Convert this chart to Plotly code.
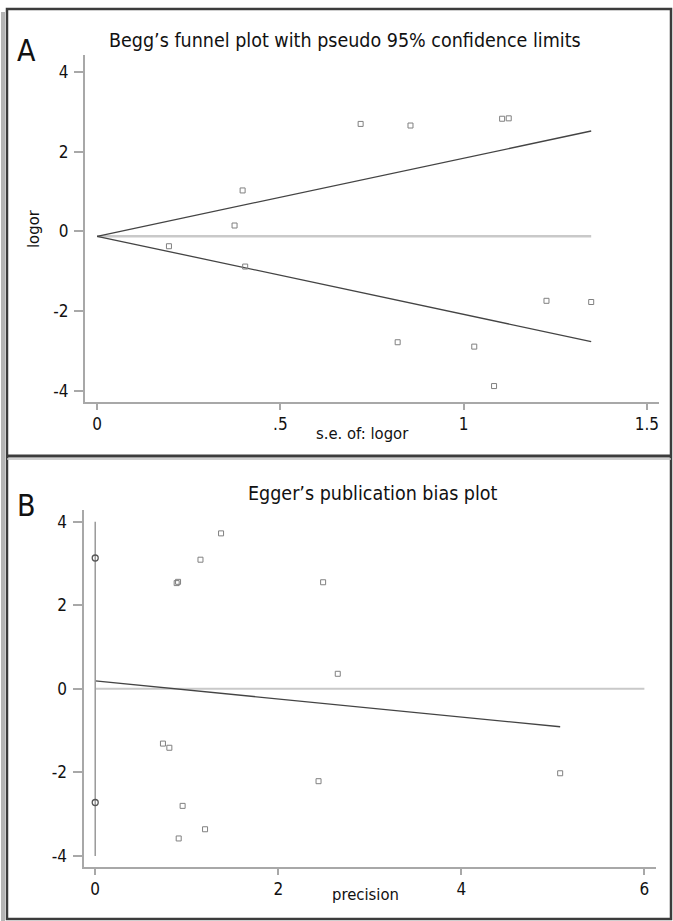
import plotly.graph_objects as go

W, H = 673, 921

# ---------------- Panel A data: Begg's funnel plot ----------------
se_logor = [0.196, 0.375, 0.397, 0.404, 0.719, 0.820, 0.855, 1.029, 1.083, 1.105, 1.123, 1.226, 1.348]
logor = [-0.37, 0.15, 1.03, -0.88, 2.70, -2.78, 2.66, -2.89, -3.88, 2.83, 2.84, -1.74, -1.77]
pooled_logor = -0.12
z95 = 1.96
a_xtick_vals = [0, 0.5, 1, 1.5]
a_xtick_text = ["0", ".5", "1", "1.5"]
a_ytick_vals = [-4, -2, 0, 2, 4]
a_ytick_text = ["-4", "-2", "0", "2", "4"]

# ---------------- Panel B data: Egger's plot ----------------
precision = [5.08, 2.65, 2.49, 2.44, 1.375, 1.20, 1.15, 0.955, 0.912, 0.905, 0.89, 0.81, 0.74]
std_effect = [-2.02, 0.36, 2.55, -2.21, 3.72, -3.36, 3.09, -2.80, -3.58, 2.56, 2.53, -1.41, -1.31]
egger_intercept = 0.19
egger_slope = -0.216
intercept_ci = [-2.72, 3.13]
ci_line_span = [-4, 4]
b_xmax = 6
b_xtick_vals = [0, 2, 4, 6]
b_xtick_text = ["0", "2", "4", "6"]
b_ytick_vals = [-4, -2, 0, 2, 4]
b_ytick_text = ["-4", "-2", "0", "2", "4"]

FONT = "DejaVu Sans Condensed, Liberation Sans Narrow, sans-serif"
AX = "#a8a8a8"
REF = "#c9c9c9"
FIT = "#444444"
MK = "#808080"

def px(x):
    return x / W

def py(y):
    return 1 - y / H

fig = go.Figure()

# Panel A lines
se_max = max(se_logor)
fig.add_trace(go.Scatter(x=[0, se_max], y=[pooled_logor, pooled_logor], mode="lines",
                         line=dict(color=REF, width=2.5), xaxis="x", yaxis="y", hoverinfo="skip"))
fig.add_trace(go.Scatter(x=[0, se_max], y=[pooled_logor, pooled_logor + z95 * se_max], mode="lines",
                         line=dict(color=FIT, width=1.3), xaxis="x", yaxis="y", hoverinfo="skip"))
fig.add_trace(go.Scatter(x=[0, se_max], y=[pooled_logor, pooled_logor - z95 * se_max], mode="lines",
                         line=dict(color=FIT, width=1.3), xaxis="x", yaxis="y", hoverinfo="skip"))
fig.add_trace(go.Scatter(x=se_logor, y=logor, mode="markers",
                         marker=dict(symbol="square-open", size=5, color=MK, line=dict(width=1)),
                         xaxis="x", yaxis="y"))

# Panel B lines
p_max = max(precision)
fig.add_trace(go.Scatter(x=[0, b_xmax], y=[0, 0], mode="lines",
                         line=dict(color=REF, width=2), xaxis="x2", yaxis="y2", hoverinfo="skip"))
fig.add_trace(go.Scatter(x=[0, p_max], y=[egger_intercept, egger_intercept + egger_slope * p_max], mode="lines",
                         line=dict(color=FIT, width=1.3), xaxis="x2", yaxis="y2", hoverinfo="skip"))
fig.add_trace(go.Scatter(x=[0, 0], y=ci_line_span, mode="lines",
                         line=dict(color="#999999", width=1.5), xaxis="x2", yaxis="y2", hoverinfo="skip"))
fig.add_trace(go.Scatter(x=[0, 0], y=intercept_ci, mode="markers",
                         marker=dict(symbol="circle-open", size=6, color="#555555", line=dict(width=1.3)),
                         xaxis="x2", yaxis="y2"))
fig.add_trace(go.Scatter(x=precision, y=std_effect, mode="markers",
                         marker=dict(symbol="square-open", size=5, color=MK, line=dict(width=1)),
                         xaxis="x2", yaxis="y2"))

axis_common = dict(showline=True, linecolor=AX, linewidth=2, ticks="outside", tickcolor=AX,
                   tickwidth=1.5, showgrid=False, zeroline=False, tickfont=dict(family=FONT, size=17, color="#111"),
                   fixedrange=True)

fig.update_layout(
    width=W, height=H, margin=dict(l=0, r=0, t=0, b=0),
    paper_bgcolor="white", plot_bgcolor="white", showlegend=False,
    xaxis=dict(domain=[px(85), px(659)], range=[-0.033, 1.533], anchor="y",
               tickvals=a_xtick_vals, ticktext=a_xtick_text, ticklen=6, ticklabelstandoff=0, **axis_common),
    yaxis=dict(domain=[py(402), py(55)], range=[-4.28, 4.43], anchor="x",
               tickvals=a_ytick_vals, ticktext=a_ytick_text, ticklen=9, ticklabelstandoff=2, **axis_common),
    xaxis2=dict(domain=[px(83.5), px(656)], range=[-0.128, 6.127], anchor="y2",
                tickvals=b_xtick_vals, ticktext=b_xtick_text, ticklen=6, ticklabelstandoff=0, **axis_common),
    yaxis2=dict(domain=[py(867), py(510)], range=[-4.263, 4.279], anchor="x2",
                tickvals=b_ytick_vals, ticktext=b_ytick_text, ticklen=9, ticklabelstandoff=2, **axis_common),
)

def ann(text, x, y, size, rot=0, xanchor="center"):
    fig.add_annotation(text=text, x=px(x), y=py(y), xref="paper", yref="paper", showarrow=False,
                       font=dict(family=FONT, size=size, color="#111"), textangle=rot,
                       xanchor=xanchor, yanchor="middle")

ann("Begg\u2019s funnel plot with pseudo 95% confidence limits", 345, 40, 19.5)
ann("A", 26, 50, 30)
ann("logor", 33, 229, 16.5, rot=-90)
ann("s.e. of: logor", 362, 433, 16.5)
ann("Egger\u2019s publication bias plot", 373, 493, 19.5)
ann("B", 26, 505, 30)
ann("precision", 366, 894, 16.5)

# frame
shapes = []
shapes.append(dict(type="line", xref="paper", yref="paper", x0=px(3), x1=px(3), y0=py(12), y1=py(921),
                   line=dict(color="#b5b5b5", width=4)))
shapes.append(dict(type="rect", xref="paper", yref="paper", x0=px(7), x1=px(671), y0=py(9), y1=py(919),
                   line=dict(color="#3c3c3c", width=2.5)))
shapes.append(dict(type="line", xref="paper", yref="paper", x0=px(7), x1=px(671), y0=py(456), y1=py(456),
                   line=dict(color="#3c3c3c", width=3)))
shapes.append(dict(type="line", xref="paper", yref="paper", x0=px(7), x1=px(671), y0=py(459), y1=py(459),
                   line=dict(color="#c0c0c0", width=1.5)))
fig.update_layout(shapes=shapes)

fig.write_html("out.html")
